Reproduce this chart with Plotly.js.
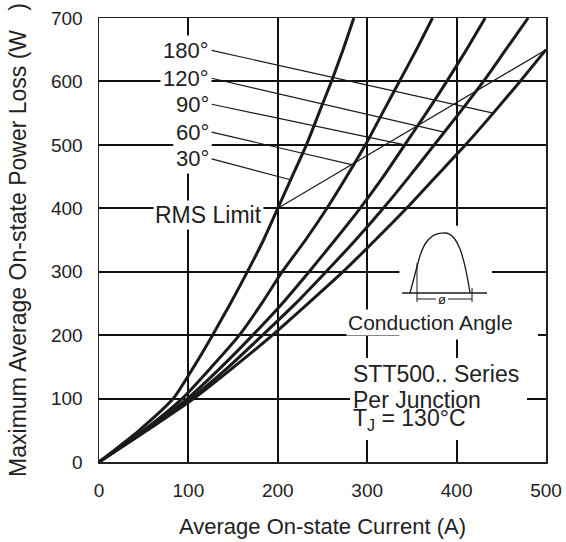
<!DOCTYPE html>
<html>
<head>
<meta charset="utf-8">
<script src="https://cdn.plot.ly/plotly-3.0.1.min.js"></script>
<style>html,body{margin:0;padding:0;background:#fff;}#chart{width:566px;height:542px;}</style>
</head>
<body>
<div id="chart"></div>
<script>
// ---- data ----
const powerLevels = [0, 50, 100, 150, 200, 250, 300, 350, 400, 450, 500, 550, 600, 650, 700]; // W
const current30  = [0, 45, 83, 106, 127, 147, 166, 184, 200, 216, 232, 246, 260, 273, 285];   // A
const current60  = [0, 50, 93, 126, 157, 182, 205, 231, 255, 277, 298, 317, 336, 355, 373];
const current90  = [0, 52, 99, 137, 172, 205, 235, 264, 292, 318, 342, 366, 389, 411, 432];
const current120 = [0, 53, 103, 145, 183, 220, 254, 287, 318, 347, 375, 403, 430, 455, 480];
const current180 = [0, 54, 106, 151, 194, 234, 273, 309, 344, 377, 410, 441, 471, 500];
const rmsLimitX = [200, 500];
const rmsLimitY = [400, 650];
const angleLabels = ['180°', '120°', '90°', '60°', '30°'];
const leaderTargetX = [441, 386, 342, 285, 214];
const leaderTargetY = [550, 520, 500, 468, 445];
const labelTailY = [649, 605, 564, 520, 478];
const labelTailX = 126;
const seriesNote = ['STT500.. Series', 'Per Junction', 'T<sub>J</sub> = 130°C'];
const xTicks = [0, 100, 200, 300, 400, 500];
const yTicks = [0, 100, 200, 300, 400, 500, 600, 700];

const FONT = '"Liberation Sans", Arial, Helvetica, sans-serif';
const INK = '#1a1a1a';

const curveLine = {color: INK, width: 3, shape: 'spline', smoothing: 0.6};
const series = [current180, current120, current90, current60, current30];
const traces = series.map((cur, i) => ({
  type: 'scatter', mode: 'lines',
  x: cur, y: powerLevels.slice(0, cur.length),
  name: angleLabels[i], line: curveLine, hoverinfo: 'skip', showlegend: false
}));
traces.push({
  type: 'scatter', mode: 'lines', x: rmsLimitX, y: rmsLimitY,
  name: 'RMS Limit', line: {color: INK, width: 1.2}, hoverinfo: 'skip', showlegend: false
});

const annotations = angleLabels.map((t, i) => ({
  text: t, xref: 'x', yref: 'y', x: leaderTargetX[i], y: leaderTargetY[i],
  axref: 'x', ayref: 'y', ax: labelTailX, ay: labelTailY[i],
  xanchor: 'right', yanchor: 'middle',
  showarrow: true, arrowhead: 0, arrowwidth: 1.2, arrowcolor: INK, standoff: 0,
  bgcolor: '#ffffff', borderpad: 2,
  font: {family: FONT, size: 22, color: '#222'}
}));
annotations.push(
  {text: 'RMS Limit', xref: 'paper', yref: 'paper', x: 0.12, y: 0.5552, xanchor: 'left', yanchor: 'middle',
   showarrow: false, bgcolor: '#ffffff', borderpad: 1, font: {family: FONT, size: 23, color: '#222'}},
  {text: 'Conduction Angle', xref: 'paper', yref: 'paper', x: 0.7405, y: 0.3153, xanchor: 'center', yanchor: 'middle',
   showarrow: false, bgcolor: '#ffffff', borderpad: 1, font: {family: FONT, size: 21, color: '#222'}},
  {text: 'ø', xref: 'paper', yref: 'paper', x: 0.7673, y: 0.3671, xanchor: 'center', yanchor: 'middle',
   showarrow: false, font: {family: FONT, size: 13, color: '#222'}}
);
const noteY = [0.1993, 0.1396, 0.0960];
seriesNote.forEach((t, i) => annotations.push({
  text: t, xref: 'paper', yref: 'paper', x: 0.566, y: noteY[i], xanchor: 'left', yanchor: 'middle',
  align: 'left', showarrow: false, borderpad: 0,
  font: {family: FONT, size: 23, color: '#222'}
}));

const shapes = [
  {type: 'rect', xref: 'paper', yref: 'paper', x0: 0.5615, x1: 0.9575, y0: 0.0495, y1: 0.2342,
   fillcolor: '#ffffff', line: {width: 0}, layer: 'above'},
  {type: 'rect', xref: 'paper', yref: 'paper', x0: 0.672, x1: 0.879, y0: 0.276, y1: 0.532,
   fillcolor: '#ffffff', line: {width: 0}, layer: 'above'},
  {type: 'rect', xref: 'paper', yref: 'paper', x0: 0.868, x1: 0.982, y0: 0.276, y1: 0.298,
   fillcolor: '#ffffff', line: {width: 0}, layer: 'above'},
  {type: 'line', xref: 'paper', yref: 'paper', x0: 0.678, x1: 0.868, y0: 0.3806, y1: 0.3806,
   line: {color: INK, width: 1.3}, layer: 'above'},
  {type: 'path', xref: 'paper', yref: 'paper',
   path: 'M 0.6957,0.3806 L 0.7136,0.4482 C 0.7250,0.4950 0.7420,0.5170 0.7740,0.5158 C 0.8020,0.5150 0.8170,0.4650 0.8300,0.3806',
   line: {color: INK, width: 1.3}, layer: 'above'},
  {type: 'line', xref: 'paper', yref: 'paper', x0: 0.7114, x1: 0.7114, y0: 0.3604, y1: 0.4482,
   line: {color: INK, width: 1}, layer: 'above'},
  {type: 'line', xref: 'paper', yref: 'paper', x0: 0.8345, x1: 0.8345, y0: 0.3604, y1: 0.3919,
   line: {color: INK, width: 1}, layer: 'above'},
  {type: 'line', xref: 'paper', yref: 'paper', x0: 0.7114, x1: 0.7540, y0: 0.3671, y1: 0.3671,
   line: {color: INK, width: 1}, layer: 'above'},
  {type: 'line', xref: 'paper', yref: 'paper', x0: 0.7810, x1: 0.8345, y0: 0.3671, y1: 0.3671,
   line: {color: INK, width: 1}, layer: 'above'}
];

const axisCommon = {
  showgrid: true, gridcolor: '#111', gridwidth: 2,
  showline: true, mirror: true, linecolor: '#222', linewidth: 1.5,
  zeroline: false, ticks: 'outside', ticklen: 11, tickcolor: 'rgba(0,0,0,0)',
  tickfont: {family: FONT, size: 19, color: '#222'}, automargin: false, fixedrange: true
};

const layout = {
  width: 566, height: 542,
  margin: {l: 99, r: 20, t: 18, b: 80},
  paper_bgcolor: '#ffffff', plot_bgcolor: '#ffffff',
  showlegend: false,
  xaxis: Object.assign({}, axisCommon, {
    range: [0, 500], tickvals: xTicks, ticktext: xTicks.map(String),
    title: {text: 'Average On-state Current (A)', font: {family: FONT, size: 22, color: '#222'}, standoff: 18}
  }),
  yaxis: Object.assign({}, axisCommon, {
    range: [0, 700], tickvals: yTicks, ticktext: yTicks.map(String),
    title: {text: 'Maximum Average On-state Power Loss (W\u00a0\u00a0\u00a0)', font: {family: FONT, size: 23, color: '#222'}, standoff: 18}
  }),
  annotations: annotations,
  shapes: shapes
};

Plotly.newPlot('chart', traces, layout, {staticPlot: true, displayModeBar: false});
</script>
</body>
</html>
